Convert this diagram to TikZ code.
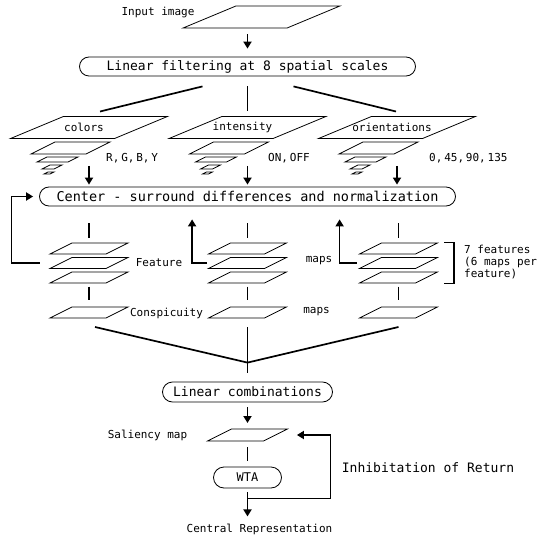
\documentclass[tikz,border=0pt]{standalone}
\usepackage{fontspec}
\setmonofont{DejaVu Sans Mono}
\usetikzlibrary{arrows.meta,shapes.misc,calc}
\tikzset{
    smalltext/.style={font=\ttfamily\fontsize{11}{12}\selectfont},
    bigtext/.style={font=\ttfamily\fontsize{13}{15}\selectfont},
    txt/.style={smalltext,inner sep=1pt},
    plane/.style={rectangle,draw,line width=0.8pt,inner sep=0pt},
    bigplane/.style={plane,minimum width=104,minimum height=22,xslant=2.4},
    fmap/.style={plane,minimum width=56,minimum height=11,xslant=2},
    pill/.style={rounded rectangle,draw,line width=0.8pt,inner sep=0pt,bigtext},
    link/.style={line width=1.7pt},
    arrow/.style={-{Triangle[length=7pt,width=8pt]},line width=1.7pt}
}

\begin{document}
\begin{tikzpicture}[x=1pt,y=-1pt]
    \useasboundingbox (0,0) rectangle (540,537);

    % input and filtering
    \node[bigplane] (inp) at (261.5,17) {};
    \node[txt] (inplbl) at (158,13) {Input image};
    \node[pill,minimum width=336,minimum height=19] (lf) at (247.5,66.5) {Linear filtering at 8 spatial scales};
    \draw[arrow,shorten <=6pt,shorten >=8pt] (lf.north |- inp.south) -- (lf.north);
    \node[pill,minimum width=416,minimum height=19,font=\ttfamily\fontsize{13.5}{15}\selectfont] (cs) at (247.5,196.5) {Center - surround differences and normalization};

    % feature channels with their pyramids
    \foreach \c/\x/\name in {col/89/colors,int/247.5/intensity,ori/397/orientations} {
        \node[bigplane] (\c) at (\x,127.5) {};
        \node[txt] (\c-lbl) at ([xshift=-5pt]\c.center) {\name};
        \foreach \k/\dx/\dy/\w/\h in {1/-18.5/20.5/55/12,2/-31.5/32/31/5,3/-37/39.5/12/4,4/-40/45.5/6/2}
            \node[plane,xslant=2,minimum width=\w,minimum height=\h] (\c-p\k) at ($(\c)+(\dx,\dy)$) {};
        \draw[arrow,shorten >=2pt] ([yshift=-38.5pt]\c.center) -- (\c |- cs.north);
    }
    \draw[link] ([xshift=-45pt,yshift=-10pt]lf.south) -- ([shift={(11pt,16pt)}]col.center);
    \draw[link] ([yshift=-10pt]lf.south) -- ([yshift=16pt]int.center);
    \draw[link] ([xshift=46pt,yshift=-10pt]lf.south) -- ([shift={(-1pt,16pt)}]ori.center);
    \node[txt,anchor=west] (rgby) at (105,158.5) {R,\,G,\,B,\,Y};
    \node[txt,anchor=west] (onoff) at (267,158.5) {ON,\,OFF};
    \node[txt,anchor=west] (angles) at (428,158.5) {0,\,45,\,90,\,135};

    % feature and conspicuity maps
    \foreach \c/\x in {col/89,int/247.5,ori/398.5} {
        \foreach \k/\y in {1/248.5,2/263,3/277.5}
            \node[fmap] (\c-f\k) at (\x,\y) {};
        \node[fmap] (\c-cm) at (\x,312.5) {};
        \draw[link,shorten <=17pt,shorten >=10.5pt] (\c-f1 |- cs.south) -- (\c-f1.center);
        \draw[link,shorten <=9pt,shorten >=12.5pt] (\c-f3.center) -- (\c-cm.center);
    }
    \draw[arrow,shorten >=6pt] ([xshift=-21pt]col-f2.west) -- ++(-28,0) |- (cs.west);
    \draw[arrow,shorten >=13pt] ([xshift=-12pt]int-f2.west) -- ++(-15,0) coordinate (fbi) -- (fbi |- cs.south);
    \draw[arrow,shorten >=13pt] ([xshift=-13.5pt]ori-f2.west) -- ++(-17,0) coordinate (fbo) -- (fbo |- cs.south);
    \draw[link] ([xshift=5.5pt]ori-f1.north east) -- ++(10,0) coordinate (brk)
        -- (brk |- ori-f3.south east) -- ++(-10,0);
    \node[txt] (featlbl) at (159,263) {Feature};
    \node[txt] (mapslbl) at (319,261) {maps};
    \node[txt] (conslbl) at (166.5,313) {Conspicuity};
    \node[txt] (cmapslbl) at (316.5,312) {maps};
    \node[txt,anchor=west,align=left] (nfeat) at (463,262) {7 features\\(6 maps per\\feature)};

    % combination, saliency and WTA
    \node[pill,minimum width=170,minimum height=20] (lc) at (247.5,392) {Linear combinations};
    \coordinate (join) at ([yshift=19pt]lc.north);
    \draw[link] ([shift={(6pt,-14.5pt)}]col-cm.center) -- (join);
    \draw[link] ([yshift=-14.5pt]ori-cm.center) -- (join);
    \draw[link] ([yshift=-14.5pt]int-cm.center) -- ([yshift=9pt]lc.north);
    \node[plane,xslant=2,minimum width=56,minimum height=12] (sal) at (247.5,435) {};
    \node[txt] (sallbl) at (147.5,435) {Saliency map};
    \draw[arrow,shorten <=5pt,shorten >=12pt] (lc.south) -- (sal.center);
    \node[pill,minimum width=68,minimum height=21,font=\ttfamily\fontsize{12}{14}\selectfont] (wta) at (247.5,477.5) {WTA};
    \draw[link,shorten <=12pt,shorten >=6pt] (sal.center) -- (wta.north);
    \node[txt] (cr) at (259.5,529) {Central Representation};
    \draw[arrow,shorten <=4pt,shorten >=6pt] (wta.south) -- (wta.south |- cr.north);
    \draw[arrow] ([yshift=-10pt]wta.south) -| ([xshift=54.5pt]sal.east) -- ([xshift=21pt]sal.east);
    \node[bigtext,inner sep=1pt] (ior) at (428,468) {Inhibitation of Return};
\end{tikzpicture}
\end{document}
